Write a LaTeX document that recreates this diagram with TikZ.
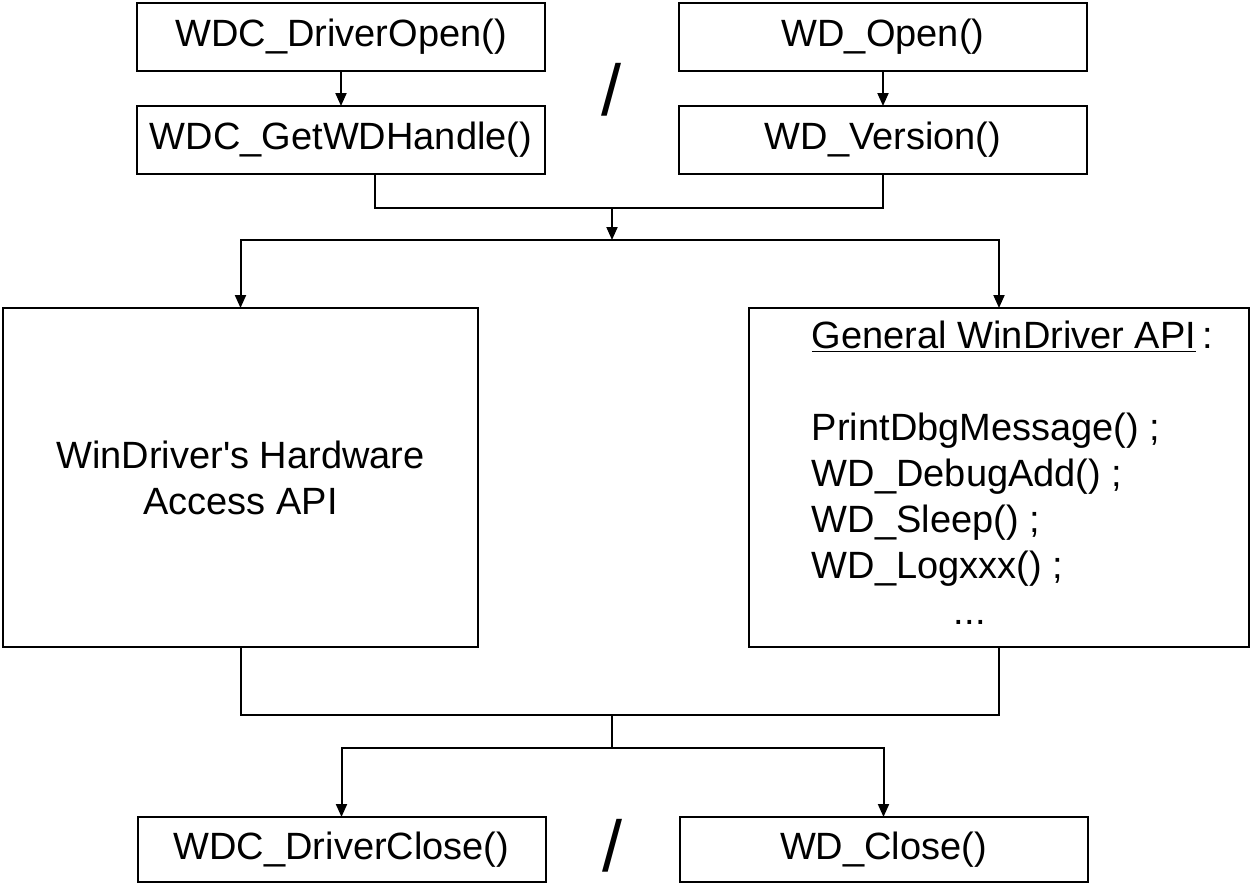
\documentclass[tikz,border=0pt]{standalone}
\usepackage{fontspec}
\setmainfont{Liberation Sans}
\usepackage{tikz}
\usetikzlibrary{arrows.meta, positioning}
\tikzstyle{wd.call} = [rectangle, draw=black, line width=1pt, outer sep=0pt, minimum width=204pt, minimum height=34pt, font=\fontsize{19pt}{23pt}\selectfont]
\tikzstyle{wd.close} = [wd.call, minimum height=32.5pt]
\tikzstyle{wd.block} = [rectangle, draw=black, line width=1pt, outer sep=0pt, minimum height=169.5pt, align=center, font=\fontsize{19pt}{23pt}\selectfont]
\tikzstyle{wd.slash} = [inner sep=0pt, font=\fontsize{36pt}{42pt}\selectfont]
\tikzstyle{wd.flow} = [-{Triangle[length=6.5pt,width=5.5pt]}, line width=1pt, black]
\tikzstyle{wd.link} = [line width=1pt, black]

\begin{document}
\begin{tikzpicture}[x=0.5pt, y=-0.5pt]
\useasboundingbox (0,0) rectangle (1255,884);

% open / get handle
\node[wd.call] (open) at (341,37) {WDC\_DriverOpen()};
\node[wd.call, below=17.5pt of open] (handle) {WDC\_GetWDHandle()};
\node[wd.call, right=67pt of open] (wdopen) {WD\_Open()};
\node[wd.call, below=17.5pt of wdopen] (version) {WD\_Version()};
\node[wd.slash] (slash_open) at (611.5,90) {/};

\coordinate (join_top) at (612,208);
\coordinate (split_top) at (612,240);

% the two API blocks
\node[wd.block, minimum width=237.5pt] (hw_api) at (240.5,477.5) {WinDriver\textquotesingle s Hardware\\Access API};
\node[wd.block, minimum width=250pt] (gen_api) at (999,477.5) {%
\begin{tabular}{@{\hspace{13.5pt}}l@{}}
\underline{General WinDriver API}\,:\\[23pt]
PrintDbgMessage() ;\\
WD\_DebugAdd() ;\\
WD\_Sleep() ;\\
WD\_Logxxx() ;\\
\hspace{71pt}...
\end{tabular}};

\coordinate (join_bot) at (612,715);
\coordinate (split_bot) at (612,748);

% close
\node[wd.close] (close) at (341.5,849.5) {WDC\_DriverClose()};
\node[wd.close, right=67pt of close] (wdclose) {WD\_Close()};
\node[wd.slash] (slash_close) at (612,845.5) {/};

\draw[wd.flow] (open) -- (handle);
\draw[wd.flow] (wdopen) -- (version);
\draw[wd.link] ([xshift=17pt]handle.south) |- (join_top) -| (version.south);
\draw[wd.flow] (join_top) -- (split_top);
\draw[wd.flow] (split_top) -| (hw_api.north);
\draw[wd.flow] (split_top) -| (gen_api.north);

\draw[wd.link] (hw_api.south) |- (join_bot) -| (gen_api.south);
\draw[wd.link] (join_bot) -- (split_bot);
\draw[wd.flow] (split_bot) -| (close.north);
\draw[wd.flow] (split_bot) -| (wdclose.north);
\end{tikzpicture}
\end{document}
